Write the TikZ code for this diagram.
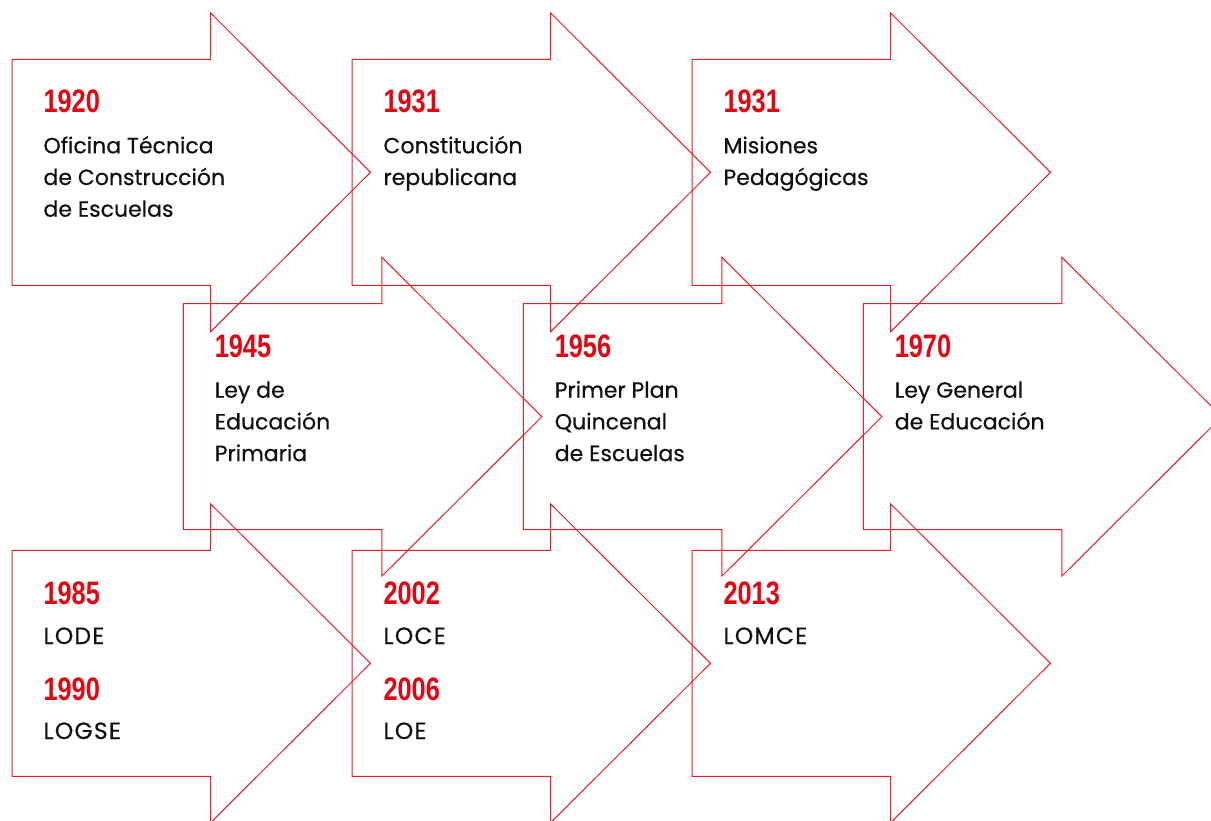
\documentclass[tikz,border=0pt]{standalone}
\usepackage{fontspec}
\newfontfamily\txtfont[FakeBold=0.4]{Poppins}
\newfontfamily\capfont[FakeBold=0.4,LetterSpace=5]{Poppins}
\newfontfamily\yearfont[FakeStretch=0.78]{Liberation Sans}
\definecolor{arrowred}{RGB}{228,30,40}
\definecolor{yearred}{RGB}{226,6,19}
\definecolor{txtblack}{RGB}{15,15,15}
\tikzset{
  arrowline/.style={draw=arrowred, line width=1pt, line join=miter},
  yeartext/.style={anchor=base west, inner sep=0pt, text=yearred, font=\yearfont\bfseries\fontsize{32.5}{32.5}\selectfont},
  desctext/.style={anchor=base west, inner sep=0pt, text=txtblack, font=\txtfont\fontsize{22}{22}\selectfont},
  lawtext/.style={anchor=base west, inner sep=0pt, text=txtblack, font=\capfont\fontsize{23.5}{23.5}\selectfont}
}
% #1 name, #2 body left x, #3 centre y
\newcommand\bigarrow[3]{%
  \coordinate (#1) at (#2,#3);
  \draw[arrowline] ($(#1)+(0,-113)$) -- ++(198.5,0) -- ++(0,-46.5) -- ++(160,159.5)
     -- ++(-160,159.5) -- ++(0,-46.5) -- ++(-198.5,0) -- cycle;
}
\usetikzlibrary{calc}
\begin{document}
\begin{tikzpicture}[x=1pt,y=-1pt]
\useasboundingbox (0,0) rectangle (1211,820);
\clip (0,0) rectangle (1211,820);
\bigarrow{a1}{12}{172.3}
\bigarrow{a2}{352}{172.3}
\bigarrow{a3}{692}{172.3}
\bigarrow{a4}{183.3}{416.7}
\bigarrow{a5}{523.3}{416.7}
\bigarrow{a6}{863.3}{416.7}
\bigarrow{a7}{12}{663.3}
\bigarrow{a8}{352}{663.3}
\bigarrow{a9}{692}{663.3}
% row 1
\node[yeartext] (y1) at ($(a1)+(31.3,-59.5)$) {1920};
\node[desctext] (d1a) at ($(a1)+(31.3,-19)$) {Oficina Técnica};
\node[desctext] (d1b) at ($(a1)+(31.3,12.7)$) {de Construcción};
\node[desctext] (d1c) at ($(a1)+(31.3,44.4)$) {de Escuelas};
\node[yeartext] (y2) at ($(a2)+(31.3,-59.5)$) {1931};
\node[desctext] (d2a) at ($(a2)+(31.3,-19)$) {Constitución};
\node[desctext] (d2b) at ($(a2)+(31.3,12.7)$) {republicana};
\node[yeartext] (y3) at ($(a3)+(31.3,-59.5)$) {1931};
\node[desctext] (d3a) at ($(a3)+(31.3,-19)$) {Misiones};
\node[desctext] (d3b) at ($(a3)+(31.3,12.7)$) {Pedagógicas};
% row 2
\node[yeartext] (y4) at ($(a4)+(31.3,-59.5)$) {1945};
\node[desctext] (d4a) at ($(a4)+(31.3,-19)$) {Ley de};
\node[desctext] (d4b) at ($(a4)+(31.3,12.7)$) {Educación};
\node[desctext] (d4c) at ($(a4)+(31.3,44.4)$) {Primaria};
\node[yeartext] (y5) at ($(a5)+(31.3,-59.5)$) {1956};
\node[desctext] (d5a) at ($(a5)+(31.3,-19)$) {Primer Plan};
\node[desctext] (d5b) at ($(a5)+(31.3,12.7)$) {Quincenal};
\node[desctext] (d5c) at ($(a5)+(31.3,44.4)$) {de Escuelas};
\node[yeartext] (y6) at ($(a6)+(31.3,-59.5)$) {1970};
\node[desctext] (d6a) at ($(a6)+(31.3,-19)$) {Ley General};
\node[desctext] (d6b) at ($(a6)+(31.3,12.7)$) {de Educación};
% row 3
\node[yeartext] (y7) at ($(a7)+(31.3,-58.5)$) {1985};
\node[lawtext] (d7a) at ($(a7)+(31.3,-19.3)$) {LODE};
\node[yeartext] (y7b) at ($(a7)+(31.3,36.7)$) {1990};
\node[lawtext] (d7b) at ($(a7)+(31.3,75.7)$) {LOGSE};
\node[yeartext] (y8) at ($(a8)+(31.3,-58.5)$) {2002};
\node[lawtext] (d8a) at ($(a8)+(31.3,-19.3)$) {LOCE};
\node[yeartext] (y8b) at ($(a8)+(31.3,36.7)$) {2006};
\node[lawtext] (d8b) at ($(a8)+(31.3,75.7)$) {LOE};
\node[yeartext] (y9) at ($(a9)+(31.3,-58.5)$) {2013};
\node[lawtext] (d9a) at ($(a9)+(31.3,-19.3)$) {LOMCE};
\end{tikzpicture}
\end{document}
